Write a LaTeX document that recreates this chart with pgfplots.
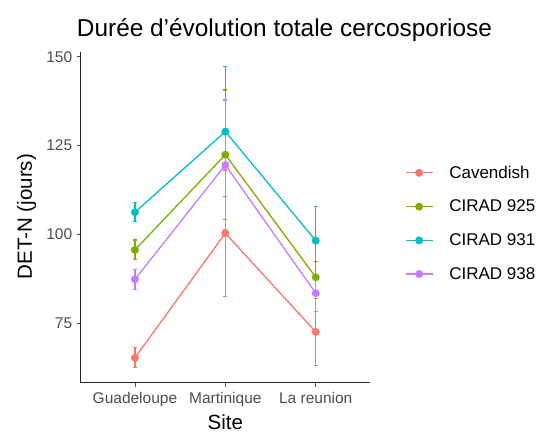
\documentclass[border=0pt]{standalone}
\usepackage{pgfplots}
\pgfplotsset{compat=1.18}
\usetikzlibrary{calc}
\usepackage{fontspec}
\setmainfont{Liberation Sans}
\definecolor{cA}{HTML}{F8766D}
\definecolor{cB}{HTML}{7CAE00}
\definecolor{cC}{HTML}{00BFC4}
\definecolor{cD}{HTML}{C77CFF}
\definecolor{tk}{HTML}{4D4D4D}
\begin{document}
\begin{tikzpicture}[x=1pt,y=1pt]
\begin{axis}[
  name=ax,
  scale only axis, width=289.3pt, height=331pt,
  xmin=0.4, xmax=3.6, ymin=58.2, ymax=151.4,
  axis x line*=bottom, axis y line*=left,
  axis line style={line width=1.1pt, draw=black!85},
  xtick={1,2,3}, xticklabels={Guadeloupe,Martinique,La reunion},
  ytick={75,100,125,150},
  tick style={draw=tk, line width=0.8pt},
  tick align=outside, major tick length=4pt,
  ticklabel style={font=\fontsize{15.5}{18}\selectfont, text=tk},
  xticklabel style={yshift=-2pt},
  yticklabel style={xshift=-1pt},
  /pgf/number format/assume math mode=true,
  xlabel={Site}, ylabel={DET-N (jours)},
  label style={font=\fontsize{20.5}{24}\selectfont},
  xlabel style={at={(axis description cs:0.5,-0.119)}, anchor=center},
  ylabel style={at={(axis description cs:-0.1867,0.5015)}, anchor=center},
  clip=false,
  error bars/y dir=both, error bars/y explicit,
  error bars/error bar style={line width=1.3pt},
  error bars/error mark options={rotate=90, mark size=2pt, line width=1.2pt},
  every axis plot/.append style={line width=1.3pt, mark=*, mark size=3.3pt},
  legend style={at={(1.121,0.4816)}, anchor=west, draw=none, fill=none,
     inner sep=0pt, outer sep=0pt,
     font=\fontsize{17}{20}\selectfont, row sep=16.3pt,
     /tikz/every odd column/.append style={column sep=14pt}},
  legend cell align=left,
  legend image code/.code={
     \draw[#1, line width=1.3pt] (0pt,0pt) -- (27pt,0pt);
     \fill[#1] (13.5pt,0pt) circle (3.3pt);},
]
\coordinate (O) at (rel axis cs:0,0);
\addplot[cA, error bars/error bar style={cA}] coordinates {
  (1,65.2) +- (0,2.8)
  (2,100.3) +- (0,17.8)
  (3,72.5) +- (0,9.4)
};
\addlegendentry{Cavendish}
\addplot[cB, error bars/error bar style={cB}] coordinates {
  (1,95.6) +- (0,2.8)
  (2,122.4) +- (0,18.2)
  (3,87.9) +- (0,4.5)
};
\addlegendentry{CIRAD 925}
\addplot[cC, error bars/error bar style={cC}] coordinates {
  (1,106.2) +- (0,2.7)
  (2,128.9) +- (0,18.3)
  (3,98.2) +- (0,9.6)
};
\addlegendentry{CIRAD 931}
\addplot[cD, error bars/error bar style={cD}] coordinates {
  (1,87.3) +- (0,2.8)
  (2,119.5) +- (0,18.3)
  (3,83.4) +- (0,5.1)
};
\addlegendentry{CIRAD 938}
\end{axis}
\node[anchor=center, font=\fontsize{24.4}{28}\selectfont] at ($(O)+(203.8,352.7)$) {Durée d'évolution totale cercosporiose};
\useasboundingbox ($(O)+(-80.7,-54.3)$) rectangle ($(O)+(462.3,382.7)$);
\end{tikzpicture}
\end{document}
